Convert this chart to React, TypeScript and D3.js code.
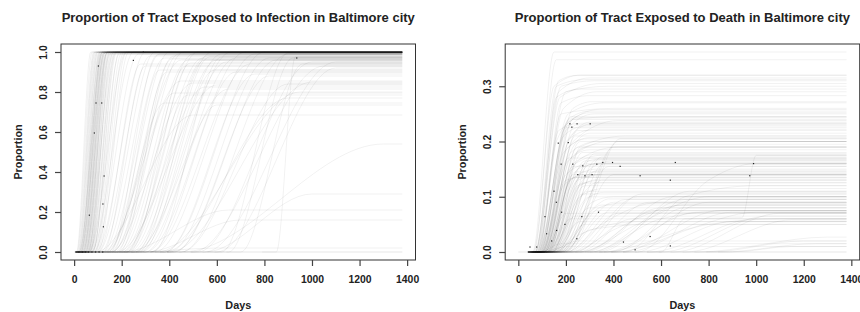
import React, { useRef, useEffect } from 'react';
import * as d3 from 'd3';

// each tract: [dayRiseStarts, day, proportion, day, proportion, ...]
const LAST_DAY = 1380;

const infectionFast = [
  [10,70,1],[12,76,1],[15,82,1],[18,85,0.998],[20,88,1],[22,92,1],[25,95,0.998],[28,98,1],[30,100,1],[32,104,0.997],
  [35,106,1],[38,110,1],[40,112,0.998],[42,115,1],[45,118,1],[48,120,0.997],[50,124,1],[52,126,1],[55,130,0.998],[58,134,1],
  [60,138,1],[62,140,0.997],[65,145,1],[68,150,1],[70,155,0.998],[24,110,1],[34,120,1],[44,130,0.997],[54,140,1],[64,160,1],
  [30,115,0.995],[40,125,0.995],[50,135,0.99],[60,150,0.99],[72,165,1],[75,170,0.998],[78,180,1],[80,175,0.995],[85,190,1],[88,200,0.997],
  [20,120,1],[26,130,0.998],[36,140,1],[46,150,1],[56,165,0.997],[66,175,1],[76,190,0.99],[90,210,1],[95,220,0.998],[100,230,1],
];

const infectionSpread = [
  [60,220,1],[70,250,1],[80,270,0.99],[90,300,1],[100,320,0.98],[110,340,1],[120,360,0.99],[130,380,0.97],[140,400,1],[150,420,0.98],
  [160,440,0.99],[170,460,1],[180,480,0.96],[190,500,0.99],[200,520,1],[210,540,0.97],[220,560,0.98],[230,580,1],[240,600,0.96],[250,620,0.99],
  [260,640,0.95],[270,660,1],[280,680,0.97],[300,720,1],[320,740,0.94],[340,760,0.99],[380,800,1],[400,820,0.97],
  [100,280,0.94],[120,300,0.93],[160,360,0.91],[180,390,0.9],[220,470,0.93],[260,550,0.96],[280,590,0.91],
  [320,680,0.9],[380,760,0.89],[420,850,0.96],[450,900,0.99],[520,1000,0.95],[600,1100,0.92],
  [150,350,0.985],[190,410,0.965],[230,490,0.945],[270,570,0.975],[130,450,0.96],[330,620,0.975],
  [850,930,0.975],[620,900,0.995],[700,960,0.94],[650,920,0.97],
];

const infectionPartial = [
  [120,450,0.855],[150,500,0.845],[180,600,0.835],[200,550,0.825],[250,650,0.815],[160,420,0.795],[220,480,0.785],[140,380,0.745],[300,600,0.735],[90,500,0.685],
  [400,1000,0.85],[450,900,0.84],[350,950,0.8],[500,1050,0.93],[550,1100,0.95],[380,900,0.77],[420,820,0.88],
  [450,1300,0.54],[550,1000,0.29],[200,650,0.21],[300,700,0.16],[250,600,0.02],
];

const infectionFlat = [0];

const infectionDots = [
  [92,0.745],[116,0.745],[85,0.595],[126,0.38],[121,0.24],[64,0.184],[123,0.126],[249,0.958],[936,0.97],[291,1],[102,0.93],
  [20,0],[35,0],[48,0],[60,0],[75,0],[90,0],[105,0],[120,0],
];

const deathFast = [
  [60,150,0.362],[62,160,0.348],[65,150,0.3,260,0.32],[68,170,0.29,300,0.315],[70,180,0.3,320,0.31],[72,175,0.28,350,0.305],[75,200,0.29,380,0.3],[78,190,0.26,330,0.29],[80,210,0.25,360,0.27],[82,200,0.23,340,0.258],
  [85,210,0.24,300,0.255],[88,220,0.245],[90,200,0.22,320,0.25],[92,230,0.24],[95,210,0.2,300,0.235],[98,240,0.23],[100,220,0.21,310,0.232],[85,200,0.225],[102,250,0.22],[105,230,0.19,300,0.215],
  [108,240,0.21],[90,190,0.18,290,0.205],[110,260,0.2],[112,220,0.17,330,0.195],[115,250,0.19],[95,200,0.16,300,0.185],[118,270,0.18],[120,240,0.16,350,0.175],[100,210,0.17],[122,280,0.165],
  [80,180,0.25,400,0.26],[100,230,0.24,420,0.245],[70,170,0.31,250,0.32],
];

const deathMid = [
  [100,200,0.14,300,0.16],[105,230,0.155],[110,220,0.13,330,0.15],[115,240,0.145],[120,230,0.14],[125,260,0.135],[128,250,0.12,350,0.13],[130,270,0.125],[135,280,0.12],[138,260,0.1,360,0.115],
  [140,290,0.11],[145,270,0.105],[150,300,0.1],[105,190,0.12,280,0.14],[112,200,0.13,320,0.138],[118,230,0.135],[124,210,0.11,260,0.14],[132,250,0.15,340,0.16],[140,280,0.155,360,0.162],[146,300,0.17],
  [150,320,0.178],[155,330,0.168],[160,350,0.172],[165,300,0.15,400,0.165],[170,320,0.145],[175,360,0.16],[180,380,0.155],[185,350,0.13],[190,400,0.14],[195,420,0.2],
  [200,400,0.19],[210,430,0.205],[130,230,0.16,420,0.19],[125,250,0.18,380,0.2],[145,260,0.19,450,0.21],
];

const deathExtra = [
  [75,170,0.22,260,0.233],[88,190,0.21,280,0.228],[92,200,0.2,320,0.222],[96,210,0.19,300,0.207],[104,220,0.18,330,0.2],[110,230,0.17,280,0.19],[116,240,0.16,310,0.176],[120,250,0.15,330,0.168],[126,260,0.14,300,0.158],[134,270,0.13,340,0.148],
  [84,160,0.2,240,0.243],[94,200,0.23,300,0.252],[106,230,0.2,420,0.238],[136,250,0.13,380,0.142],[142,260,0.12,350,0.132],[148,280,0.11,330,0.126],[156,300,0.1,360,0.108],[162,310,0.09,400,0.1],[168,330,0.085,380,0.096],[176,340,0.08,420,0.088],
  [80,160,0.28,260,0.295],[86,180,0.27,300,0.283],[72,160,0.3,280,0.312],[96,230,0.26,310,0.272],
];

const deathSlow = [
  [150,300,0.08],[160,350,0.085],[170,330,0.075],[180,400,0.09],[190,380,0.072],[200,450,0.095],[210,420,0.07],[220,500,0.1],[230,480,0.06],[240,520,0.105],
  [250,550,0.09],[260,600,0.08],[270,580,0.075],[280,650,0.1],[300,700,0.095],[320,680,0.085],[340,720,0.11],[360,750,0.072],[380,800,0.09],[400,700,0.08],
  [420,850,0.075],[450,900,0.072],[200,350,0.05,600,0.09],[220,400,0.04,700,0.085],[250,500,0.05,800,0.1],[300,600,0.06,900,0.075],[350,700,0.04,1000,0.072],[400,800,0.05,1100,0.06],[150,250,0.03,500,0.055],[180,300,0.04,550,0.05],
  [120,220,0.06],[130,240,0.065],[140,260,0.055],[110,200,0.07],[160,280,0.05],
  [100,200,0.01],[120,250,0.02],[90,180,0.015],
];

const deathLate = [
  [500,900,0.055],[550,1000,0.06],[600,1050,0.065],[650,1100,0.07],[700,1150,0.058],[750,1300,0.027],[800,1200,0.02],[850,1250,0.015],[900,1150,0.01],
  [600,700,0.06,940,0.062,1000,0.175],[450,700,0.1,1000,0.12],[500,800,0.13,1000,0.16],
];

const deathFlat = [0];

const deathDots = [
  [217,0.232],[247,0.232],[302,0.232],[225,0.226],[210,0.198],[168,0.197],[180,0.159],[229,0.159],[271,0.156],[330,0.159],
  [355,0.162],[396,0.162],[660,0.162],[989,0.16],[973,0.138],[512,0.138],[639,0.13],[428,0.155],[250,0.14],[280,0.138],
  [310,0.14],[112,0.064],[182,0.072],[196,0.05],[267,0.064],[337,0.072],[246,0.024],[442,0.018],[554,0.028],[639,0.011],
  [491,0.004],[119,0.033],[161,0.039],[77,0.009],[49,0.009],[140,0.02],[150,0.11],[160,0.09],
];

const dayTicks = [0, 200, 400, 600, 800, 1000, 1200, 1400];

const panels = [
  {
    title: 'Proportion of Tract Exposed to Infection in Baltimore city',
    tracts: [...infectionFast, ...infectionSpread, ...infectionPartial],
    flat: infectionFlat,
    dots: infectionDots,
    firstDay: 5,
    yMax: 1,
    yTicks: [0, 0.2, 0.4, 0.6, 0.8, 1.0],
    left: 61,
  },
  {
    title: 'Proportion of Tract Exposed to Death in Baltimore city',
    tracts: [...deathFast, ...deathMid, ...deathExtra, ...deathSlow, ...deathLate],
    flat: deathFlat,
    dots: deathDots,
    firstDay: 40,
    yMax: 0.362,
    yTicks: [0, 0.1, 0.2, 0.3],
    left: 505.2,
  },
];

function knots(t: number[], first: number): [number, number][] {
  const pts: [number, number][] = [];
  const lead = Math.max(first, t[0] - 60);
  if (t[0] > lead) pts.push([lead, 0]);
  pts.push([t[0], 0]);
  for (let i = 1; i + 1 < t.length; i += 2) pts.push([t[i], t[i + 1]]);
  pts.push([LAST_DAY, pts[pts.length - 1][1]]);
  return pts;
}

const App: React.FC = () => {
  const ref = useRef<SVGSVGElement | null>(null);

  useEffect(() => {
    if (!ref.current) return;
    const svg = d3.select(ref.current);
    svg.selectAll('*').remove();
    const font = '"Liberation Sans", Arial, Helvetica, sans-serif';
    const top = 44, bottom = 260, plotW = 354.5;

    panels.forEach(p => {
      // R style 4% padding on both axes
      const xPad = LAST_DAY * 0.04;
      const yPad = p.yMax * 0.04;
      const x = d3.scaleLinear().domain([-xPad, LAST_DAY + xPad]).range([p.left, p.left + plotW]);
      const y = d3.scaleLinear().domain([-yPad, p.yMax + yPad]).range([bottom, top]);
      const g = svg.append('g');

      const line = d3.line<[number, number]>()
        .x(d => x(d[0]))
        .y(d => y(d[1]))
        .curve(d3.curveMonotoneX);

      g.selectAll('path.flat').data(p.flat).enter().append('path')
        .attr('class', 'flat')
        .attr('d', v => line([[0, v], [LAST_DAY, v]]))
        .attr('fill', 'none').attr('stroke', '#000')
        .attr('stroke-opacity', 0.12).attr('stroke-width', 0.8);

      g.selectAll('path.tract').data(p.tracts).enter().append('path')
        .attr('class', 'tract')
        .attr('d', t => line(knots(t, p.firstDay)))
        .attr('fill', 'none').attr('stroke', '#000')
        .attr('stroke-opacity', 0.09).attr('stroke-width', 0.65);

      g.selectAll('rect.dot').data(p.dots).enter().append('rect')
        .attr('class', 'dot')
        .attr('x', d => x(d[0]) - 0.6).attr('y', d => y(d[1]) - 0.6)
        .attr('width', 1.2).attr('height', 1.2)
        .attr('fill', '#222');

      // box
      g.append('rect')
        .attr('x', p.left).attr('y', top)
        .attr('width', plotW).attr('height', bottom - top)
        .attr('fill', 'none').attr('stroke', '#333').attr('stroke-width', 1);

      const xAxis = d3.axisBottom(x).tickValues(dayTicks).tickSize(6).tickPadding(10).tickFormat(d3.format('d'));
      const xg = g.append('g').attr('transform', `translate(0,${bottom})`).call(xAxis);
      xg.select('.domain').remove();
      xg.selectAll('line').attr('stroke', '#444').attr('stroke-width', 1.2);
      xg.selectAll('text').attr('font-family', font).attr('font-size', 10.4).attr('font-weight', 'bold').attr('fill', '#222');

      const yAxis = d3.axisLeft(y).tickValues(p.yTicks).tickSize(6).tickFormat(d3.format('.1f'));
      const yg = g.append('g').attr('transform', `translate(${p.left},0)`).call(yAxis);
      yg.select('.domain').remove();
      yg.selectAll('line').attr('stroke', '#444').attr('stroke-width', 1.2);
      yg.selectAll('text')
        .attr('transform', 'rotate(-90)')
        .attr('x', 0).attr('y', -14).attr('dy', 0)
        .attr('text-anchor', 'middle')
        .attr('font-family', font).attr('font-size', 10.4).attr('font-weight', 'bold').attr('fill', '#222');

      const cx = p.left + plotW / 2;
      g.append('text')
        .attr('x', cx).attr('y', 22)
        .attr('text-anchor', 'middle')
        .attr('font-family', font).attr('font-size', 13).attr('font-weight', 'bold').attr('fill', '#222')
        .text(p.title);

      g.append('text')
        .attr('x', cx).attr('y', 309)
        .attr('text-anchor', 'middle')
        .attr('font-family', font).attr('font-size', 10.8).attr('font-weight', 'bold').attr('fill', '#222')
        .text('Days');

      g.append('text')
        .attr('transform', `translate(${p.left - 39.5},${(top + bottom) / 2}) rotate(-90)`)
        .attr('text-anchor', 'middle')
        .attr('font-family', font).attr('font-size', 10.8).attr('font-weight', 'bold').attr('fill', '#222')
        .text('Proportion');
    });
  }, []);

  return (
    <svg ref={ref} width={860} height={312}
      style={{ position: 'absolute', left: 0, top: 0, background: '#fff' }} />
  );
};

export default App;
